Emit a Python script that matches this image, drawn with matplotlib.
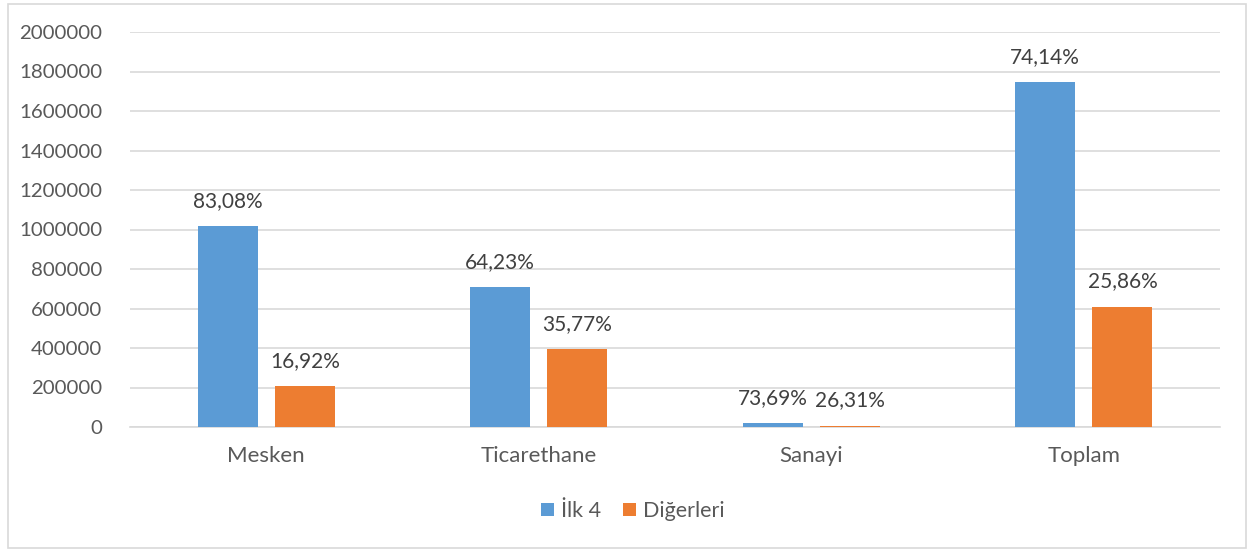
import numpy as np
import matplotlib.pyplot as plt
from matplotlib.patches import Rectangle

categories = ["Mesken", "Ticarethane", "Sanayi", "Toplam"]
ilk4 = [1018000, 709000, 20000, 1747000]
digerleri = [207300, 394800, 7140, 609200]
ilk4_labels = ["83,08%", "64,23%", "73,69%", "74,14%"]
dig_labels = ["16,92%", "35,77%", "26,31%", "25,86%"]
yticks = [0, 200000, 400000, 600000, 800000, 1000000, 1200000,
          1400000, 1600000, 1800000, 2000000]

BLUE = "#5B9BD5"
ORANGE = "#ED7D31"
TXT = "#595959"

plt.rcParams["font.family"] = ["Lato", "DejaVu Sans"]

fig = plt.figure(figsize=(12.56, 5.52), dpi=100)
ax = fig.add_axes([130 / 1256, 1 - 427 / 552, 1090 / 1256, 395 / 552])

# outer chart border
fig.patches.append(Rectangle((8 / 1256, 4 / 552), 1238 / 1256, 544 / 552,
                             transform=fig.transFigure, fill=False,
                             edgecolor="#d9d9d9", linewidth=1.2))

x = np.arange(len(categories))
w = 0.22
off = 0.142
b1 = ax.bar(x - off, ilk4, w, color=BLUE, label="İlk 4", zorder=3)
b2 = ax.bar(x + off, digerleri, w, color=ORANGE, label="Diğerleri", zorder=3)

for bars, labels in ((b1, ilk4_labels), (b2, dig_labels)):
    for rect, lab in zip(bars, labels):
        ax.annotate(lab, (rect.get_x() + rect.get_width() / 2, rect.get_height()),
                    xytext=(0, 11), textcoords="offset points", ha="center",
                    va="bottom", fontsize=15, color="#404040")

ax.set_xlim(-0.5, 3.5)
ax.set_ylim(0, 2000000)
ax.set_yticks(yticks)
ax.set_yticklabels([str(v) for v in yticks])
ax.set_xticks(x)
ax.set_xticklabels(categories)
ax.tick_params(axis="y", length=0, labelsize=14.7, labelcolor=TXT, pad=20)
ax.tick_params(axis="x", length=0, labelsize=16, labelcolor=TXT, pad=14)
ax.yaxis.grid(True, color="#d9d9d9", linewidth=1.2, zorder=0)
for s in ["top", "right", "left"]:
    ax.spines[s].set_visible(False)
ax.spines["bottom"].set_color("#d9d9d9")
ax.spines["bottom"].set_linewidth(1.2)

leg = fig.legend(handles=[b1, b2], loc="center", ncol=2,
                 bbox_to_anchor=(633 / 1256, 1 - 511 / 552), frameon=False,
                 fontsize=15.5, handlelength=0.6, handleheight=0.6,
                 handletextpad=0.35, columnspacing=1.0)
for t in leg.get_texts():
    t.set_color(TXT)

fig.savefig("out.png", dpi=100)
